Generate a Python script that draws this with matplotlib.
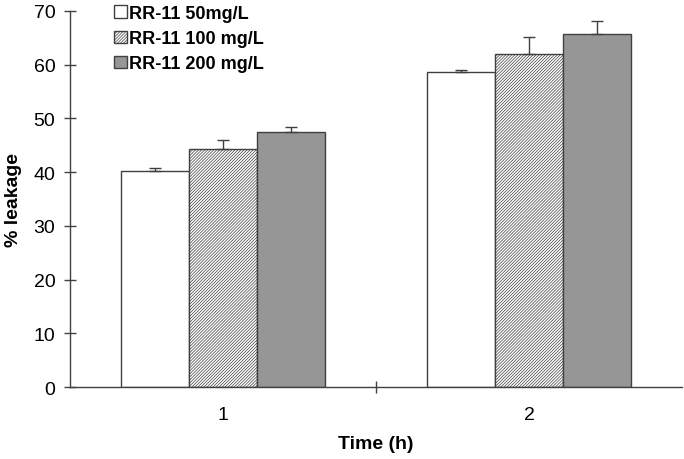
import numpy as np
import matplotlib.pyplot as plt
import matplotlib as mpl

mpl.rcParams['font.family'] = ['Liberation Sans', 'DejaVu Sans']
mpl.rcParams['hatch.linewidth'] = 0.5
mpl.rcParams['hatch.color'] = '#5a5a5a'

times = ['1', '2']
series = ['RR-11 50mg/L', 'RR-11 100 mg/L', 'RR-11 200 mg/L']
values = [
    [40.2, 58.7],
    [44.3, 62.0],
    [47.5, 65.8],
]
errors = [
    [0.5, 0.4],
    [1.6, 3.1],
    [0.9, 2.4],
]

faces = ['white', 'white', '#969696']
hatches = [None, '/' * 11, None]

fig = plt.figure(figsize=(6.84, 4.6), dpi=100)
ax = fig.add_axes([0.1023, 0.1565, 0.8947, 0.8175])

x = np.arange(len(times)) + 0.5
w = 0.2222
for i, name in enumerate(series):
    pos = x + (i - 1) * w
    ax.bar(pos, values[i], w, color=faces[i], edgecolor='#404040', linewidth=1.0,
           hatch=hatches[i], label=name, zorder=2)
    ax.errorbar(pos, values[i], yerr=[np.zeros(len(times)), errors[i]], fmt='none',
                ecolor='#404040', elinewidth=1.0, capsize=4, capthick=1.0, zorder=3)

ax.set_xlim(0, 2)
ax.set_ylim(0, 70)
ax.set_xticks(x)
ax.set_xticklabels(times)
ax.set_xticks([1], minor=True)
ax.set_yticks(range(0, 71, 10))
ax.tick_params(axis='y', direction='inout', length=9, width=1.0, color='#404040',
               labelsize=14, pad=6)
ax.tick_params(axis='x', which='major', length=0, labelsize=14, pad=14)
ax.tick_params(axis='x', which='minor', direction='inout', length=9, width=1.0, color='#404040')

for s in ['top', 'right']:
    ax.spines[s].set_visible(False)
for s in ['left', 'bottom']:
    ax.spines[s].set_color('#404040')
    ax.spines[s].set_linewidth(1.0)

ax.set_ylabel('% leakage', fontsize=14, fontweight='bold', labelpad=8)
ax.set_xlabel('Time (h)', fontsize=14, fontweight='bold', labelpad=8)

leg = ax.legend(loc='upper left', bbox_to_anchor=(0.06, 1.035), frameon=False,
                prop={'weight': 'bold', 'size': 13}, handlelength=0.7, handleheight=0.7,
                handletextpad=0.15, labelspacing=0.45, borderaxespad=0)

fig.savefig('out.png', dpi=100)
